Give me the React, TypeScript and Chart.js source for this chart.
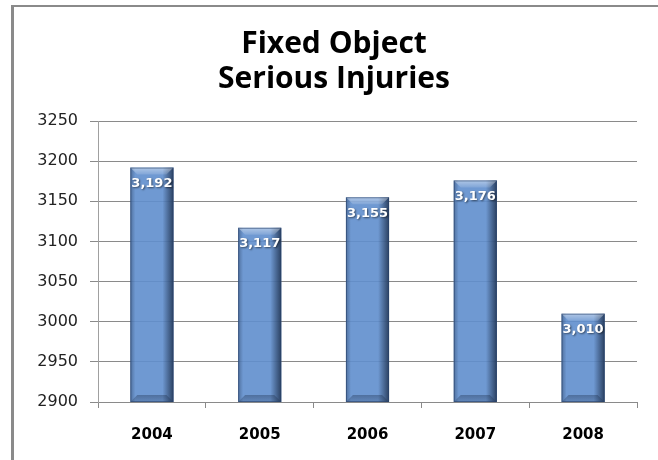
import React, { useEffect, useRef } from "react";
import { Chart, registerables } from "chart.js";

Chart.register(...registerables);

const titleLines = ["Fixed Object", "Serious Injuries"];
const years = ["2004", "2005", "2006", "2007", "2008"];
const injuries = [3192, 3117, 3155, 3176, 3010];
const yMin = 2900;
const yMax = 3250;
const yStep = 50;

const fmt = (v: number) => v.toLocaleString("en-US");

const framePlugin = {
  id: "frame",
  beforeDraw(chart: any) {
    const ctx = chart.ctx;
    ctx.save();
    ctx.fillStyle = "#ffffff";
    ctx.fillRect(0, 0, chart.width, chart.height);
    ctx.fillStyle = "#8a8a8a";
    ctx.fillRect(11, 5, 3, chart.height - 5);
    ctx.fillRect(11, 5, chart.width - 11, 2);
    ctx.restore();
  },
  afterDraw(chart: any) {
    const ctx = chart.ctx;
    ctx.save();
    ctx.fillStyle = "#000000";
    ctx.textAlign = "center";
    ctx.textBaseline = "alphabetic";
    ctx.font = "bold 30px 'Open Sans'";
    ctx.fillText(titleLines[0], 334, 53);
    ctx.fillText(titleLines[1], 334, 88);
    ctx.restore();
  },
};

const bevelPlugin = {
  id: "bevel",
  afterDatasetsDraw(chart: any) {
    const ctx = chart.ctx;
    const area = chart.chartArea;
    const meta = chart.getDatasetMeta(0);
    const data = chart.data.datasets[0].data as number[];
    meta.data.forEach((el: any, i: number) => {
      const { x, y, base, width } = el.getProps(["x", "y", "base", "width"], true);
      const L = x - width / 2;
      const R = x + width / 2;
      const T = Math.max(y, area.top);
      const B = Math.min(base, area.bottom);
      const b = 7;
      ctx.save();
      ctx.beginPath();
      ctx.rect(area.left, area.top, area.right - area.left, area.bottom - area.top);
      ctx.clip();
      // right dark edge
      let g = ctx.createLinearGradient(R - 11, 0, R, 0);
      g.addColorStop(0, "rgba(20,35,60,0)");
      g.addColorStop(1, "rgba(20,35,60,0.75)");
      ctx.fillStyle = g;
      ctx.fillRect(R - 11, T, 11, B - T);
      // left edge
      g = ctx.createLinearGradient(L, 0, L + 5, 0);
      g.addColorStop(0, "rgba(20,35,60,0.35)");
      g.addColorStop(1, "rgba(20,35,60,0)");
      ctx.fillStyle = g;
      ctx.fillRect(L, T, 5, B - T);
      // top bevel
      g = ctx.createLinearGradient(0, T, 0, T + b);
      g.addColorStop(0, "rgba(255,255,255,0.45)");
      g.addColorStop(1, "rgba(255,255,255,0.12)");
      ctx.fillStyle = g;
      ctx.beginPath();
      ctx.moveTo(L, T);
      ctx.lineTo(R, T);
      ctx.lineTo(R - b, T + b);
      ctx.lineTo(L + b, T + b);
      ctx.closePath();
      ctx.fill();
      // bottom bevel
      g = ctx.createLinearGradient(0, B - b, 0, B);
      g.addColorStop(0, "rgba(20,35,60,0.35)");
      g.addColorStop(1, "rgba(20,35,60,0.15)");
      ctx.fillStyle = g;
      ctx.beginPath();
      ctx.moveTo(L, B);
      ctx.lineTo(R, B);
      ctx.lineTo(R - b, B - b);
      ctx.lineTo(L + b, B - b);
      ctx.closePath();
      ctx.fill();
      // outline
      ctx.strokeStyle = "rgba(40,65,105,0.6)";
      ctx.lineWidth = 1;
      ctx.strokeRect(L + 0.5, T + 0.5, width - 1, B - T - 1);
      // value label
      ctx.fillStyle = "#ffffff";
      ctx.shadowColor = "rgba(0,0,0,0.55)";
      ctx.shadowBlur = 2;
      ctx.shadowOffsetX = 1;
      ctx.shadowOffsetY = 1;
      ctx.font = "bold 13px 'DejaVu Sans'";
      ctx.textAlign = "center";
      ctx.textBaseline = "middle";
      ctx.fillText(fmt(data[i]), x, T + 16);
      ctx.restore();
    });
  },
};

export default function App() {
  const ref = useRef<HTMLCanvasElement | null>(null);

  useEffect(() => {
    if (!ref.current) return;
    const chart = new Chart(ref.current, {
      type: "bar",
      data: {
        labels: years,
        datasets: [
          {
            data: injuries,
            backgroundColor: "rgba(95,142,205,0.9)",
            borderWidth: 0,
            barPercentage: 0.4,
            categoryPercentage: 1,
          },
        ],
      },
      options: {
        responsive: false,
        animation: false,
        layout: { padding: { top: 121, right: 21, left: 0, bottom: 0 } },
        plugins: {
          legend: { display: false },
          title: { display: false },
          tooltip: { enabled: false },
        },
        scales: {
          x: {
            afterFit: (s: any) => {
              s.height = 58;
            },
            grid: {
              drawOnChartArea: false,
              drawTicks: true,
              tickLength: 6,
              color: "#8a8a8a",
              offset: true,
            },
            border: { display: true, color: "#8a8a8a", width: 1 },
            ticks: {
              color: "#000000",
              font: { family: "'DejaVu Sans'", size: 15, weight: "bold" },
              padding: 18,
              maxRotation: 0,
              autoSkip: false,
            },
          },
          y: {
            min: yMin,
            max: yMax,
            afterFit: (s: any) => {
              s.width = 98;
            },
            grid: {
              color: "#8a8a8a",
              tickLength: 8,
              drawTicks: true,
            },
            border: { display: true, color: "#a0a0a0", width: 1 },
            ticks: {
              stepSize: yStep,
              color: "#222222",
              font: { family: "'DejaVu Sans'", size: 16 },
              padding: 12,
              callback: (v: any) => String(v),
            },
          },
        },
      },
      plugins: [framePlugin, bevelPlugin],
    });
    return () => chart.destroy();
  }, []);

  return (
    <div style={{ position: "absolute", left: 0, top: 0, width: 658, height: 460 }}>
      <canvas ref={ref} width={658} height={460} style={{ width: 658, height: 460, display: "block" }} />
    </div>
  );
}
